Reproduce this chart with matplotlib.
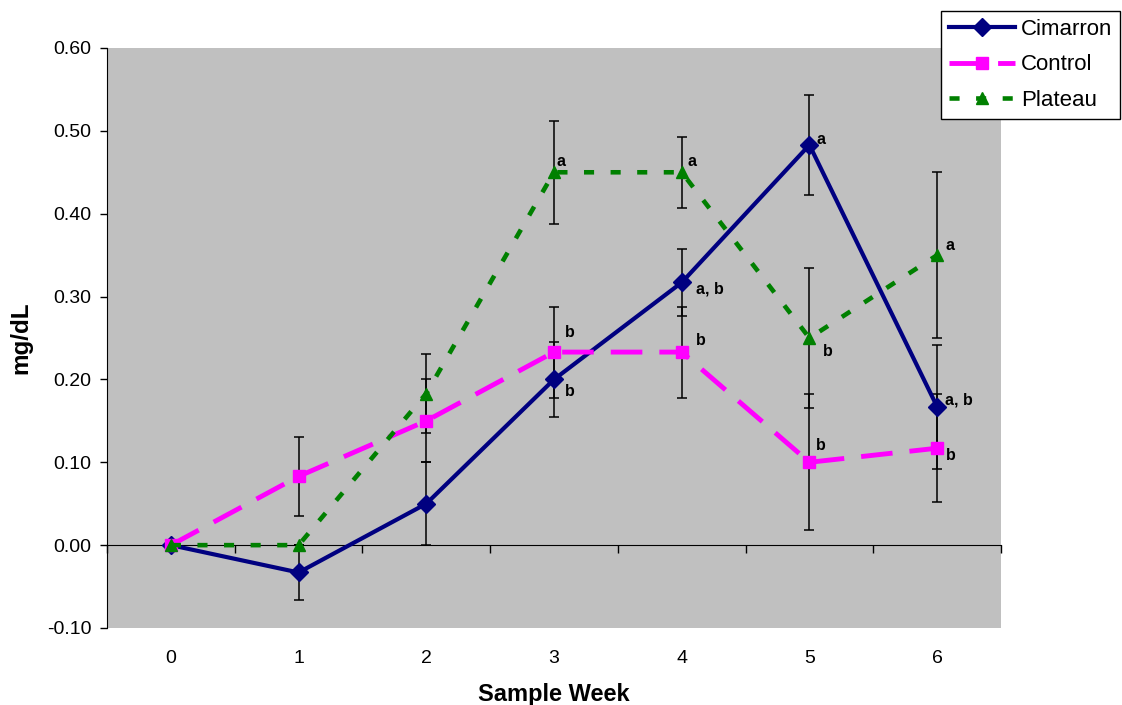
import numpy as np
import matplotlib
matplotlib.use("Agg")
import matplotlib.pyplot as plt

plt.rcParams['font.family'] = ['Liberation Sans', 'DejaVu Sans']

# Data
weeks = [0, 1, 2, 3, 4, 5, 6]
cimarron = [0.0, -0.033, 0.05, 0.20, 0.317, 0.483, 0.167]
cimarron_err = [0.0, 0.033, 0.05, 0.045, 0.04, 0.06, 0.075]
control = [0.0, 0.083, 0.15, 0.233, 0.233, 0.10, 0.117]
control_err = [0.0, 0.048, 0.05, 0.055, 0.055, 0.082, 0.065]
plateau = [0.0, 0.0, 0.183, 0.45, 0.45, 0.25, 0.35]
plateau_err = [0.0, 0.0, 0.048, 0.062, 0.043, 0.084, 0.10]

# significance letters: (series, week, text)
letters = [
    ("Plateau", 3, "a"), ("Plateau", 4, "a"), ("Plateau", 5, "b"), ("Plateau", 6, "a"),
    ("Cimarron", 3, "b"), ("Cimarron", 4, "a, b"), ("Cimarron", 5, "a"), ("Cimarron", 6, "a, b"),
    ("Control", 3, "b"), ("Control", 4, "b"), ("Control", 5, "b"), ("Control", 6, "b"),
]
# label offsets in points (dx, dy)
letter_offsets = [
    (2, 8), (4, 8), (10, -10), (6, 7),
    (8, -9), (10, -5), (5, 4), (6, 5),
    (8, 14), (10, 8), (5, 12), (6, -5),
]

series = {
    "Cimarron": (cimarron, cimarron_err),
    "Control": (control, control_err),
    "Plateau": (plateau, plateau_err),
}

fig = plt.figure(figsize=(11.22, 7.05), dpi=100)
ax = fig.add_axes([107 / 1122, 1 - 628 / 705, 894 / 1122, 580 / 705])
ax.set_facecolor('#C0C0C0')

# error bars behind the lines
for name, (vals, errs) in series.items():
    ax.errorbar(weeks, vals, yerr=errs, fmt='none', ecolor='black',
                elinewidth=1.1, capsize=3.6, capthick=1.1, zorder=2)

ax.plot(weeks, cimarron, color='#000080', lw=3, marker='D', markersize=9,
        label='Cimarron', zorder=3)
ax.plot(weeks, control, color='#FF00FF', lw=3.5, linestyle=(0, (6.5, 3.5)),
        marker='s', markersize=8, label='Control', zorder=3)
ax.plot(weeks, plateau, color='#008000', lw=3.3, linestyle=(0, (2.2, 3.6)),
        marker='^', markersize=9, label='Plateau', zorder=3)

for (name, wk, txt), (dx, dy) in zip(letters, letter_offsets):
    vals = series[name][0]
    ax.annotate(txt, (weeks[wk], vals[wk]), xytext=(dx, dy), textcoords='offset points',
                ha='left', va='center', fontsize=11.5, fontweight='bold', zorder=5)

ax.set_xlim(-0.5, 6.5)
ax.set_ylim(-0.1, 0.6)
ax.set_yticks(np.arange(-0.1, 0.61, 0.1))
ax.set_yticklabels(["%.2f" % v for v in np.arange(-0.1, 0.61, 0.1)])
ax.set_xticks(weeks)
ax.set_xticklabels([str(w) for w in weeks])
ax.tick_params(axis='y', direction='out', length=5, width=1, labelsize=14, pad=6)
ax.tick_params(axis='x', length=0, labelsize=14, pad=16)

for s in ['top', 'right', 'bottom']:
    ax.spines[s].set_visible(False)
ax.spines['left'].set_color('black')

# category axis line at y = 0 with boundary tick marks
ymin, ymax = ax.get_ylim()
sec = ax.secondary_xaxis((0 - ymin) / (ymax - ymin))
sec.set_xticks(np.arange(-0.5, 6.6, 1.0))
sec.tick_params(direction='out', length=6, width=1, labelbottom=False, labeltop=False)
sec.spines['bottom'].set_color('black')

ax.set_xlabel('Sample Week', fontsize=17, fontweight='bold', labelpad=11)
ax.set_ylabel('mg/dL', fontsize=17.5, fontweight='bold', labelpad=11)

leg = fig.legend(loc='upper right', bbox_to_anchor=(1120 / 1122, 1 - 11 / 705),
                 fontsize=16, frameon=True, fancybox=False, framealpha=1,
                 edgecolor='black', handlelength=3.0, handletextpad=0.25,
                 labelspacing=0.66, borderpad=0.35, borderaxespad=0)
leg.get_frame().set_linewidth(1)

fig.savefig('out.png', dpi=100)
